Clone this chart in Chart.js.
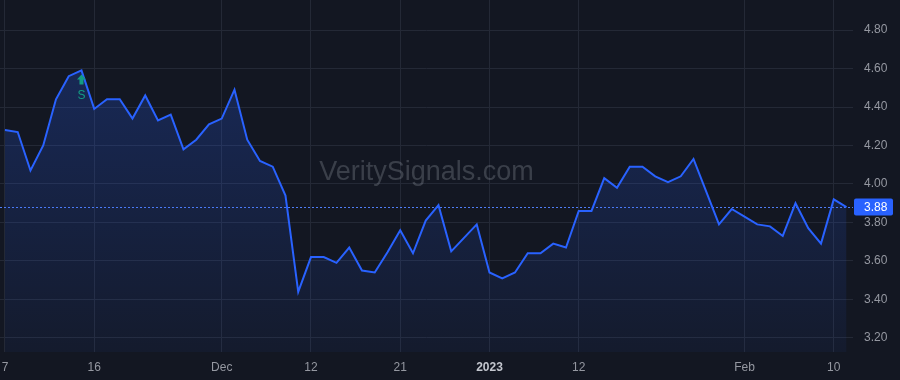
<!DOCTYPE html>
<html>
<head>
<meta charset="utf-8">
<script src="https://cdn.jsdelivr.net/npm/chart.js@4.4.1/dist/chart.umd.min.js"></script>
<style>
    html, body { margin: 0; padding: 0; background: #131722; }
    #chartBox { width: 900px; height: 380px; position: relative; }
</style>
</head>
<body>
<div id="chartBox"><canvas id="priceChart"></canvas></div>
<script>
// Trading days, Nov 7 2022 -> Feb 13 2023
const dates = [
    '2022-11-07','2022-11-08','2022-11-09','2022-11-10','2022-11-11','2022-11-14','2022-11-15','2022-11-16',
    '2022-11-17','2022-11-18','2022-11-21','2022-11-22','2022-11-23','2022-11-25','2022-11-28','2022-11-29',
    '2022-11-30','2022-12-01','2022-12-02','2022-12-05','2022-12-06','2022-12-07','2022-12-08','2022-12-09',
    '2022-12-12','2022-12-13','2022-12-14','2022-12-15','2022-12-16','2022-12-19','2022-12-20','2022-12-21',
    '2022-12-22','2022-12-23','2022-12-27','2022-12-28','2022-12-29','2022-12-30','2023-01-03','2023-01-04',
    '2023-01-05','2023-01-06','2023-01-09','2023-01-10','2023-01-11','2023-01-12','2023-01-13','2023-01-17',
    '2023-01-18','2023-01-19','2023-01-20','2023-01-23','2023-01-24','2023-01-25','2023-01-26','2023-01-27',
    '2023-01-30','2023-01-31','2023-02-01','2023-02-02','2023-02-03','2023-02-06','2023-02-07','2023-02-08',
    '2023-02-09','2023-02-10','2023-02-13'
];
const prices = [
    4.28, 4.27, 4.07, 4.20, 4.44, 4.56, 4.59, 4.39, 4.44, 4.44, 4.34, 4.46, 4.33, 4.36, 4.18, 4.23,
    4.31, 4.34, 4.49, 4.23, 4.12, 4.09, 3.94, 3.44, 3.62, 3.62, 3.59, 3.67, 3.55, 3.54, 3.645, 3.76,
    3.64, 3.81, 3.89, 3.65, 3.72, 3.79, 3.54, 3.51, 3.54, 3.64, 3.64, 3.69, 3.67, 3.86, 3.86, 4.03,
    3.98, 4.09, 4.09, 4.04, 4.01, 4.04, 4.13, 3.96, 3.79, 3.87, 3.83, 3.79, 3.78, 3.73, 3.90, 3.77,
    3.69, 3.92, 3.88
];
const xTickIndex = [0, 7, 17, 24, 31, 38, 45, 58, 65];
const xTickText = ['7', '16', 'Dec', '12', '21', '2023', '12', 'Feb', '10'];
const yTicks = [3.2, 3.4, 3.6, 3.8, 4.0, 4.2, 4.4, 4.6, 4.8];
const lastPrice = 3.88;
const signalIndex = 6;
const signalText = 'S';
const watermarkText = 'VeritySignals.com';

const BLUE = '#2962ff';
const GRID = '#242936';
const TEXT = '#9598a1';

function sinPadding(scale) {
    scale.paddingTop = 0;
    scale.paddingBottom = 0;
    scale.paddingLeft = 0;
    scale.paddingRight = 0;
}

const overlayPlugin = {
    id: 'overlay',
    beforeDraw(chart) {
        const ctx = chart.ctx;
        ctx.save();
        ctx.fillStyle = '#131722';
        ctx.fillRect(0, 0, chart.width, chart.height);
        ctx.restore();
    },
    beforeDatasetsDraw(chart) {
        const { ctx, chartArea, scales } = chart;
        ctx.save();
        // marca de agua
        ctx.font = '27px "Liberation Sans", Arial, sans-serif';
        ctx.fillStyle = 'rgba(150, 155, 165, 0.3)';
        ctx.textAlign = 'center';
        ctx.textBaseline = 'middle';
        ctx.fillText(watermarkText, (chartArea.left + chartArea.right) / 2, 173);
        // linea del ultimo precio
        const y = Math.round(scales.y.getPixelForValue(lastPrice)) + 0.5;
        ctx.strokeStyle = '#4f7df5';
        ctx.lineWidth = 1;
        ctx.setLineDash([2, 2]);
        ctx.beginPath();
        ctx.moveTo(chartArea.left, y);
        ctx.lineTo(chartArea.right, y);
        ctx.stroke();
        ctx.restore();
    },
    afterDatasetsDraw(chart) {
        const { ctx, chartArea, scales } = chart;
        ctx.save();
        // etiqueta del precio
        const y = scales.y.getPixelForValue(lastPrice);
        ctx.fillStyle = BLUE;
        ctx.beginPath();
        ctx.roundRect(chartArea.right + 1, y - 8.5, 39, 17, 2);
        ctx.fill();
        ctx.fillStyle = '#ffffff';
        ctx.font = '12px "Liberation Sans", Arial, sans-serif';
        ctx.textAlign = 'left';
        ctx.textBaseline = 'middle';
        ctx.fillText(lastPrice.toFixed(2), chartArea.right + 11, y + 0.5);
        // senal
        const px = scales.x.getPixelForValue(signalIndex);
        const py = scales.y.getPixelForValue(prices[signalIndex]);
        ctx.fillStyle = '#139c84';
        ctx.beginPath();
        ctx.moveTo(px, py + 4);
        ctx.lineTo(px + 4.5, py + 9);
        ctx.lineTo(px + 2, py + 9);
        ctx.lineTo(px + 2, py + 14);
        ctx.lineTo(px - 2, py + 14);
        ctx.lineTo(px - 2, py + 9);
        ctx.lineTo(px - 4.5, py + 9);
        ctx.closePath();
        ctx.fill();
        ctx.font = '12px "Liberation Sans", Arial, sans-serif';
        ctx.textAlign = 'center';
        ctx.fillText(signalText, px, py + 25);
        ctx.restore();
    }
};

const data = prices.map((p, i) => ({ x: i, y: p }));

const config = {
    type: 'line',
    data: {
        datasets: [{
            label: 'Precio',
            data: data,
            borderColor: BLUE,
            borderWidth: 2,
            pointRadius: 0,
            tension: 0,
            fill: 'start',
            backgroundColor: function(context) {
                const area = context.chart.chartArea;
                if (!area) return 'rgba(41,98,255,0.15)';
                const g = context.chart.ctx.createLinearGradient(0, area.top, 0, area.bottom);
                g.addColorStop(0, 'rgba(41, 98, 255, 0.28)');
                g.addColorStop(1, 'rgba(41, 98, 255, 0.05)');
                return g;
            }
        }]
    },
    options: {
        responsive: true,
        maintainAspectRatio: false,
        animation: false,
        layout: { padding: 0 },
        plugins: {
            legend: { display: false },
            tooltip: { enabled: false }
        },
        scales: {
            x: {
                type: 'linear',
                min: -0.39,
                max: 66.51,
                afterBuildTicks: (scale) => { scale.ticks = xTickIndex.map(v => ({ value: v })); },
                afterFit: (scale) => { scale.height = 28; sinPadding(scale); },
                border: { display: false },
                grid: { color: GRID, drawTicks: false },
                ticks: {
                    autoSkip: false,
                    maxRotation: 0,
                    padding: 8,
                    color: (c) => (c.tick && c.tick.value === 38) ? '#c3c6ce' : TEXT,
                    font: (c) => ({
                        family: '"Liberation Sans", Arial, sans-serif',
                        size: 12,
                        weight: (c.tick && c.tick.value === 38) ? 'bold' : 'normal'
                    }),
                    callback: (v) => xTickText[xTickIndex.indexOf(v)]
                }
            },
            y: {
                position: 'right',
                min: 3.127,
                max: 4.956,
                afterBuildTicks: (scale) => { scale.ticks = yTicks.map(v => ({ value: v })); },
                afterFit: (scale) => { scale.width = 47; sinPadding(scale); },
                border: { display: false },
                grid: { color: GRID, drawTicks: false },
                ticks: {
                    padding: 11,
                    color: TEXT,
                    font: { family: '"Liberation Sans", Arial, sans-serif', size: 12 },
                    callback: (v) => v.toFixed(2)
                }
            }
        }
    },
    plugins: [overlayPlugin]
};

new Chart(document.getElementById('priceChart').getContext('2d'), config);
</script>
</body>
</html>
